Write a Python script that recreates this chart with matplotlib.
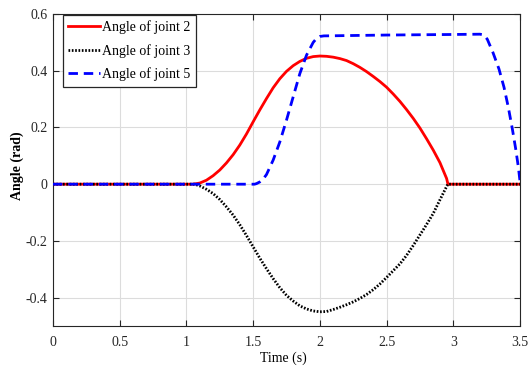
import matplotlib
matplotlib.use("Agg")
import matplotlib.pyplot as plt

plt.rcParams['font.family'] = ['Liberation Serif', 'DejaVu Serif']

# Joint 2 angle (rad)
t2 = [0.0, 1.05, 1.1, 1.15, 1.2, 1.25, 1.3, 1.35, 1.4, 1.45, 1.5, 1.55, 1.6, 1.65, 1.7, 1.75,
      1.8, 1.85, 1.9, 1.95, 2.0, 2.05, 2.1, 2.15, 2.2, 2.25, 2.3, 2.35, 2.4, 2.45, 2.5, 2.55,
      2.6, 2.65, 2.7, 2.75, 2.8, 2.85, 2.9, 2.95, 2.96, 3.5]
q2 = [0.0, 0.0, 0.004, 0.014, 0.030, 0.050, 0.075, 0.104, 0.138, 0.177, 0.220, 0.262, 0.302,
      0.340, 0.372, 0.398, 0.418, 0.433, 0.444, 0.450, 0.452, 0.451, 0.448, 0.443, 0.436,
      0.425, 0.412, 0.397, 0.380, 0.362, 0.342, 0.318, 0.292, 0.263, 0.232, 0.198, 0.160,
      0.120, 0.076, 0.020, 0.0, 0.0]

# Joint 3 angle (rad)
t3 = [0.0, 1.06, 1.1, 1.15, 1.2, 1.25, 1.3, 1.35, 1.4, 1.45, 1.5, 1.55, 1.6, 1.65, 1.7, 1.75,
      1.8, 1.85, 1.9, 1.95, 2.0, 2.05, 2.1, 2.15, 2.2, 2.25, 2.3, 2.35, 2.4, 2.45, 2.5, 2.55,
      2.6, 2.65, 2.7, 2.75, 2.8, 2.85, 2.9, 2.95, 2.96, 3.5]
q3 = [0.0, 0.0, -0.006, -0.018, -0.033, -0.054, -0.080, -0.109, -0.143, -0.181, -0.221, -0.261,
      -0.298, -0.333, -0.365, -0.392, -0.412, -0.429, -0.440, -0.447, -0.450, -0.449, -0.442,
      -0.434, -0.425, -0.415, -0.403, -0.389, -0.372, -0.352, -0.329, -0.305, -0.281, -0.251,
      -0.216, -0.179, -0.142, -0.103, -0.055, -0.008, 0.0, 0.0]

# Joint 5 angle (rad)
t5 = [0.0, 1.51, 1.525, 1.55, 1.575, 1.6, 1.65, 1.7, 1.75, 1.8, 1.85, 1.9, 1.95, 1.975, 2.0,
      2.03, 2.5, 3.0, 3.2, 3.23, 3.255, 3.2975, 3.3425, 3.38, 3.4125, 3.4425, 3.4675, 3.4875, 3.5]
q5 = [0.0, 0.0, 0.002, 0.008, 0.018, 0.034, 0.085, 0.149, 0.226, 0.308, 0.390, 0.455, 0.500,
      0.514, 0.521, 0.523, 0.526, 0.528, 0.529, 0.526, 0.511, 0.464, 0.406, 0.342, 0.271,
      0.195, 0.125, 0.061, 0.01]

labels = ['Angle of joint 2', 'Angle of joint 3', 'Angle of joint 5']
xticks = [0, 0.5, 1, 1.5, 2, 2.5, 3, 3.5]
xticklabels = ['0', '0.5', '1', '1.5', '2', '2.5', '3', '3.5']
yticks = [-0.4, -0.2, 0, 0.2, 0.4, 0.6]
yticklabels = ['-0.4', '-0.2', '0', '0.2', '0.4', '0.6']

fig = plt.figure(figsize=(5.31, 3.70), dpi=100)
ax = fig.add_axes([0.0998, 0.119, 0.8795, 0.843])

ax.plot(t2, q2, color='#ff0000', lw=2.0, label=labels[0], zorder=3)
ax.plot(t3, q3, color='black', lw=2.0, linestyle=(0, (0.6, 0.6)), label=labels[1], zorder=4)
ax.plot(t5, q5, color='#0000ff', lw=2.0, linestyle=(0, (3.4, 2.1)), label=labels[2], zorder=5)

ax.set_xlim(0, 3.5)
ax.set_ylim(-0.5, 0.6)
ax.set_xticks(xticks)
ax.set_xticklabels(xticklabels)
ax.set_yticks(yticks)
ax.set_yticklabels(yticklabels)
ax.grid(True, color='#dcdcdc', lw=0.8)
ax.set_axisbelow(True)
ax.tick_params(direction='in', top=True, right=True, length=4, width=0.8,
               labelsize=10, colors='#262626')
ax.tick_params(axis='y', pad=4)
ax.tick_params(axis='x', pad=7)
for s in ax.spines.values():
    s.set_color('#262626')
    s.set_linewidth(0.8)

ax.set_xlabel('Time (s)', fontsize=10)
ax.xaxis.set_label_coords(0.493, -0.082)
ax.set_ylabel('Angle (rad)', fontsize=10, fontweight='bold')
ax.yaxis.set_label_coords(-0.062, 0.515)

leg = ax.legend(loc='upper left', bbox_to_anchor=(0.021, 0.998), fontsize=10, frameon=True,
                fancybox=False, edgecolor='#262626', framealpha=1, borderpad=0.4,
                labelspacing=0.7, handlelength=2.3, handletextpad=0.15, borderaxespad=0.0)
leg.get_frame().set_linewidth(0.9)

fig.savefig('out.png', dpi=100)
